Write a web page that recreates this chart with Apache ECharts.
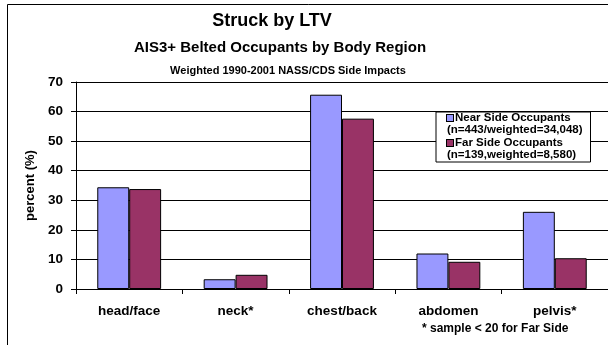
<!DOCTYPE html>
<html>
<head>
<meta charset="utf-8">
<script src="https://cdn.jsdelivr.net/npm/echarts@6/dist/echarts.min.js"></script>
<style>
  html, body { margin: 0; padding: 0; background: #fff; }
  #chart { width: 608px; height: 345px; }
</style>
</head>
<body>
<div id="chart"></div>
<script>
// Body regions on the category axis
const categories = ['head/face', 'neck*', 'chest/back', 'abdomen', 'pelvis*'];
// Percent of AIS3+ belted occupants injured in each region
const nearSide = [34.4, 3.3, 65.7, 12.0, 26.1];
const farSide = [33.8, 4.8, 57.6, 9.2, 10.4];
// Series names and sample notes shown in the legend
const seriesNames = ['Near Side Occupants', 'Far Side Occupants'];
const sampleNotes = ['(n=443/weighted=34,048)', '(n=139,weighted=8,580)'];
const yTicks = { min: 0, max: 70, step: 10 };

const FONT = 'Liberation Sans, Arial, Helvetica, sans-serif';
const BLUE = '#9999FF';
const PLUM = '#993366';

const chart = echarts.init(document.getElementById('chart'), null, { renderer: 'canvas' });

const option = {
  backgroundColor: '#ffffff',
  animation: false,
  textStyle: { fontFamily: FONT, color: '#000' },
  title: [
    { text: 'Struck by LTV', left: 272, top: 12, padding: 0, textAlign: 'center',
      textStyle: { fontFamily: FONT, fontSize: 18, fontWeight: 'bold', color: '#000' } },
    { text: 'AIS3+ Belted Occupants by Body Region', left: 280, top: 40, padding: 0, textAlign: 'center',
      textStyle: { fontFamily: FONT, fontSize: 15, fontWeight: 'bold', color: '#000' } },
    { text: 'Weighted 1990-2001 NASS/CDS Side Impacts', left: 288, top: 65, padding: 0, textAlign: 'center',
      textStyle: { fontFamily: FONT, fontSize: 11, fontWeight: 'bold', color: '#000' } }
  ],
  legend: {
    orient: 'vertical',
    left: 436,
    top: 112,
    padding: [0, 8, 1, 5],
    itemGap: 1,
    itemWidth: 0,
    itemHeight: 0,
    backgroundColor: '#ffffff',
    borderColor: '#000',
    borderWidth: 1,
    borderRadius: 0,
    data: seriesNames,
    formatter: function (name) {
      const i = seriesNames.indexOf(name);
      const sq = i === 0 ? 'sqA' : 'sqB';
      return '{' + sq + '|}{h|' + name + '}\n{t|' + sampleNotes[i] + '}';
    },
    textStyle: {
      fontFamily: FONT,
      fontSize: 11.5,
      fontWeight: 'bold',
      color: '#000',
      lineHeight: 12,
      rich: {
        sqA: { width: 6, height: 6, backgroundColor: BLUE, borderColor: '#000', borderWidth: 1 },
        sqB: { width: 6, height: 6, backgroundColor: PLUM, borderColor: '#000', borderWidth: 1 },
        h: { fontFamily: FONT, fontSize: 11.5, fontWeight: 'bold', color: '#000', lineHeight: 12, padding: [0, 0, 0, 2] },
        t: { fontFamily: FONT, fontSize: 11.5, fontWeight: 'bold', color: '#000', lineHeight: 12 }
      }
    }
  },
  grid: { left: 76, top: 82, width: 540, height: 207, containLabel: false },
  xAxis: {
    type: 'category',
    data: categories,
    axisLine: { lineStyle: { color: '#000', width: 1 } },
    axisTick: { show: true, length: 5, lineStyle: { color: '#000' } },
    axisLabel: { margin: 15, fontFamily: FONT, fontSize: 13.5, fontWeight: 'bold', color: '#000' },
    splitLine: { show: false }
  },
  yAxis: {
    type: 'value',
    min: yTicks.min,
    max: yTicks.max,
    interval: yTicks.step,
    name: 'percent (%)',
    nameLocation: 'middle',
    nameRotate: 90,
    nameGap: 35,
    nameTextStyle: { fontFamily: FONT, fontSize: 13, fontWeight: 'bold', color: '#000' },
    axisLine: { show: true, lineStyle: { color: '#000', width: 1 } },
    axisTick: { show: true, length: 5, lineStyle: { color: '#000' } },
    axisLabel: { margin: 13, fontFamily: FONT, fontSize: 13.5, fontWeight: 'bold', color: '#000' },
    splitLine: { show: true, lineStyle: { color: '#000', width: 1 } }
  },
  series: [
    {
      name: seriesNames[0],
      type: 'bar',
      data: nearSide,
      barGap: '0%',
      barCategoryGap: '40%',
      itemStyle: { color: BLUE, borderColor: '#000', borderWidth: 1 }
    },
    {
      name: seriesNames[1],
      type: 'bar',
      data: farSide,
      barGap: '0%',
      barCategoryGap: '40%',
      itemStyle: { color: PLUM, borderColor: '#000', borderWidth: 1 }
    }
  ],
  graphic: [
    // Outer chart frame (right and bottom edges run past the canvas)
    { type: 'rect', silent: true, z: -1,
      shape: { x: 7.5, y: 4.5, width: 700, height: 400 },
      style: { fill: null, stroke: '#000', lineWidth: 1 } },
    // Footnote under the category labels
    { type: 'text', left: 422, top: 323, silent: true,
      style: { text: '* sample < 20 for Far Side', font: 'bold 12px ' + FONT, fill: '#000' } }
  ]
};

chart.setOption(option);
</script>
</body>
</html>
